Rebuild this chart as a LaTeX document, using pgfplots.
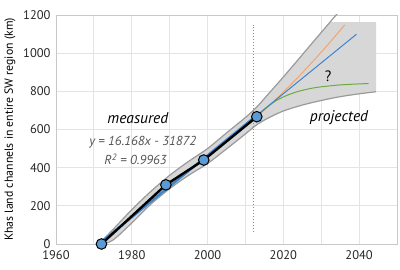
\documentclass[border=0pt]{standalone}
\usepackage{fontspec}
\setmainfont{PT Sans}
\usepackage{pgfplots}
\pgfplotsset{compat=1.18}
\usepgfplotslibrary{fillbetween}
\definecolor{bandfill}{HTML}{D7D7D7}
\definecolor{bandline}{HTML}{9A9A9A}
\definecolor{gridc}{HTML}{E4E4E4}
\definecolor{axc}{HTML}{C8C8C8}
\definecolor{ptblue}{HTML}{5B9BD5}
\definecolor{fitblue}{HTML}{3D85CC}
\definecolor{orng}{HTML}{F4A56B}
\definecolor{grn}{HTML}{6DAA3F}
\definecolor{eqgray}{HTML}{555555}
\begin{document}
\begin{tikzpicture}
\begin{axis}[at={(0,0)}, anchor=south west, scale only axis,
  width=341pt, height=229pt,
  xmin=1960, xmax=2050, ymin=0, ymax=1200,
  xtick={1960,1980,...,2040}, minor xtick={1970,1990,...,2050},
  ytick={0,200,...,1200},
  grid=both,
  major grid style={gridc, line width=0.9pt},
  minor grid style={gridc, line width=0.9pt},
  axis line style={draw=axc, line width=0.9pt},
  tick style={draw=none},
  major tick length=0pt, minor tick length=0pt,
  ticklabel style={font=\fontsize{12.5}{14}\selectfont, text=black!85},
  xticklabel style={yshift=-3pt},
  yticklabel style={xshift=-2pt},
  /pgf/number format/assume math mode=true,
  /pgf/number format/set thousands separator={},
  ylabel={Khas land channels in entire SW region (km)},
  every axis y label/.style={at={(axis description cs:0,0.5)}, xshift=-46pt, rotate=90, anchor=center,
    font=\fontsize{11.8}{13}\selectfont},
]
% confidence band fill
\addplot[name path=U, draw=none, forget plot] coordinates {
 (1971.5,5) (1975,75) (1980,180) (1985,275) (1990,360) (1995,433) (2000,500)
 (2005,582) (2010,663) (2013,718) (2016,785) (2020,875) (2024,968) (2028,1062)
 (2030,1108) (2032.3,1162) (2044.5,1162)};
\addplot[name path=L, draw=none, forget plot] coordinates {
 (1971.5,-5) (1975,20) (1980,110) (1985,208) (1990,290) (1995,360) (2000,422)
 (2005,498) (2010,577) (2013,625) (2016,660) (2020,697) (2025,728) (2030,752)
 (2035,772) (2040,787) (2044.5,798)};
\addplot[fill=bandfill, draw=none, forget plot] fill between[of=U and L];
% band boundary lines
\addplot[bandline, line width=1.2pt, smooth] coordinates {
 (1971.5,5) (1975,75) (1980,180) (1985,275) (1990,360) (1995,433) (2000,500)
 (2005,582) (2010,663) (2013,718) (2016,785) (2020,875) (2024,968) (2028,1062)
 (2032,1155) (2035,1225)};
\addplot[bandline, line width=1.2pt, smooth] coordinates {
 (1971.5,-5) (1975,20) (1980,110) (1985,208) (1990,290) (1995,360) (2000,422)
 (2005,498) (2010,577) (2013,625) (2016,660) (2020,697) (2025,728) (2030,752)
 (2035,772) (2040,787) (2044.5,798)};
% dotted divider
\addplot[black!45, dash pattern=on 0.9pt off 2.1pt, line width=0.9pt] coordinates {(2012,62) (2012,1150)};
% projections
\addplot[orng, line width=1pt, smooth] coordinates {
 (2013,667) (2016,720) (2020,796) (2024,876) (2028,961) (2032,1050) (2036.2,1148)};
\addplot[grn, line width=1pt, smooth] coordinates {
 (2013,667) (2015,706) (2018,750) (2021,779) (2024,800) (2028,818) (2032,828)
 (2036,835) (2042.5,841)};
\addplot[fitblue, line width=1pt] coordinates {(2013,674.2) (2039.3,1099)};
% linear fit in measured period
\addplot[fitblue, line width=2.4pt] coordinates {(1971.3,0) (2013,674.2)};
% measured data
\addplot[black, line width=2.4pt, mark=*, mark size=5.3pt,
  mark options={fill=ptblue, draw=black, line width=1pt}] coordinates {
 (1972,0) (1989,310) (1999,440) (2013,667)};
% annotations
\node[font=\fontsize{15.5}{17}\selectfont\itshape] at (axis cs:1981.6,660) {measured};
\node[font=\fontsize{13}{15}\selectfont\itshape, text=eqgray] at (axis cs:1982.9,531) {y = 16.168x - 31872};
\node[font=\fontsize{13}{15}\selectfont\itshape, text=eqgray] at (axis cs:1981,445) {R\textsuperscript{2} = 0.9963};
\node[font=\fontsize{15.5}{17}\selectfont\itshape] at (axis cs:2034.7,660) {projected};
\node[font=\fontsize{15}{17}\selectfont] at (axis cs:2031.8,880) {?};
\end{axis}
\path (-56pt,-26pt) rectangle (344pt,244pt);
\end{tikzpicture}
\end{document}
